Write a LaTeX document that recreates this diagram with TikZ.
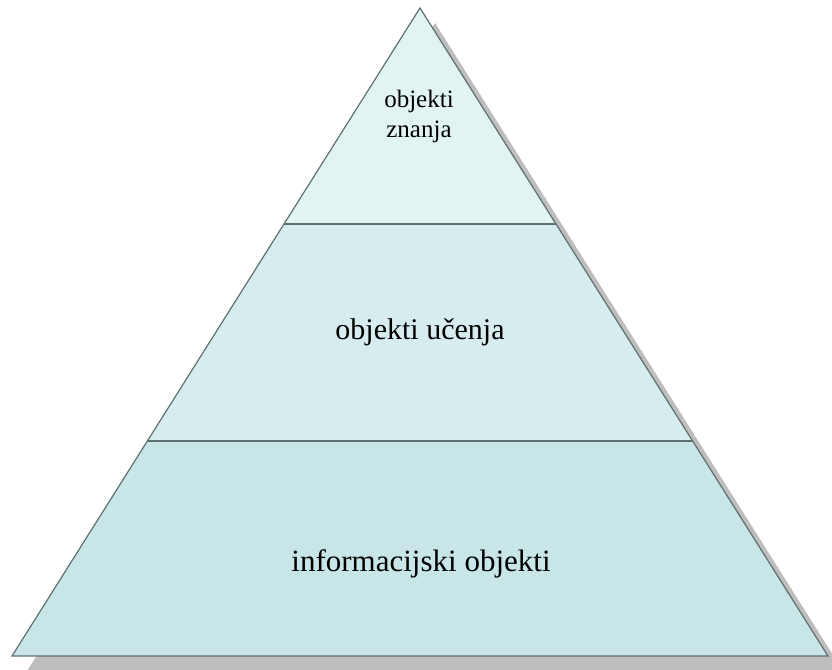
\documentclass[tikz,border=0pt]{standalone}
\usepackage{fontspec}
\setmainfont{Liberation Serif}
\definecolor{tiertop}{RGB}{226,243,244}
\definecolor{tiermid}{RGB}{215,236,238}
\definecolor{tierbot}{RGB}{200,230,232}
\definecolor{shadowgray}{RGB}{190,190,190}
\definecolor{edgegray}{RGB}{95,112,112}
\begin{document}
\begin{tikzpicture}[x=1pt,y=1pt,
  outline/.style={draw=edgegray, line width=1.2pt, line join=miter},
  tier/.style={outline},
  label/.style={font=#1, align=center, inner sep=0pt, text=black},
  drop/.style={shift={(15,-15)}},
]
\useasboundingbox (0,0) rectangle (832,669);
\clip (0,0) rectangle (832,669);

% corner and level points of the pyramid
\coordinate (apex) at (420,661);
\coordinate (bl) at (12,13);
\coordinate (br) at (828,13);
\coordinate (ul) at (284,445);
\coordinate (ur) at (556,445);
\coordinate (ml) at (147.4,228);
\coordinate (mr) at (692.6,228);

% drop shadow, offset down and to the right
\fill[shadowgray] ([drop]apex) -- ([drop]br) -- ([drop]bl) -- cycle;

% three tiers
\fill[tierbot] (ml) -- (mr) -- (br) -- (bl) -- cycle;
\fill[tiermid] (ul) -- (ur) -- (mr) -- (ml) -- cycle;
\fill[tiertop] (apex) -- (ur) -- (ul) -- cycle;
\draw[tier] (ul) -- (ur);
\draw[tier] (ml) -- (mr);
\draw[outline] (apex) -- (br) -- (bl) -- cycle;

% tier labels
\node[label=\fontsize{25}{30}\selectfont, anchor=base] (ktop) at (419,561) {objekti};
\node[label=\fontsize{25}{30}\selectfont, anchor=base] (kbot) at (419,531) {znanja};
\node[label=\fontsize{30}{36}\selectfont, anchor=base] (learn) at (420,329) {objekti učenja};
\node[label=\fontsize{31}{37}\selectfont, anchor=base] (info) at (421,97) {informacijski objekti};
\end{tikzpicture}
\end{document}
